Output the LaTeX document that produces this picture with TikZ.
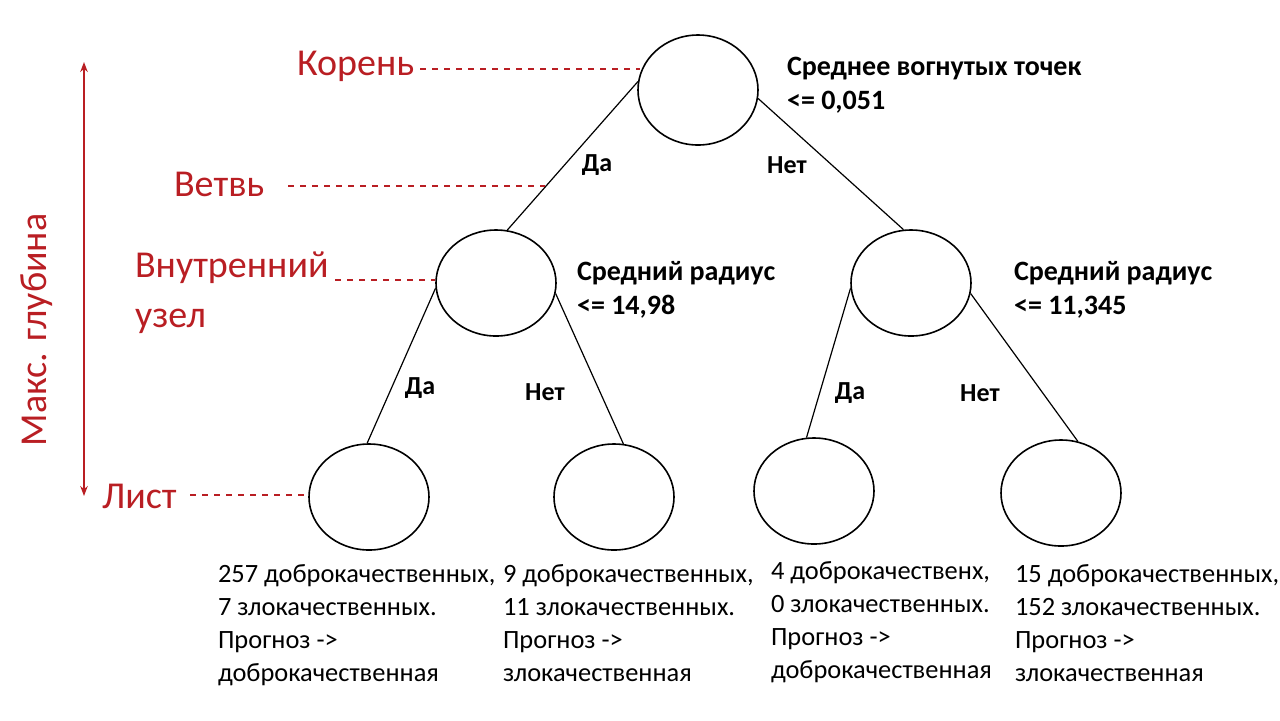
\documentclass[tikz,border=0pt]{standalone}
\usepackage{fontspec}
\setmainfont{Carlito}
\usetikzlibrary{arrows.meta,shapes.geometric}
\definecolor{myred}{RGB}{185,30,35}
\begin{document}
\begin{tikzpicture}[x=0.5pt,y=-0.5pt,
  nd/.style={draw,ellipse,line width=0.8pt,minimum width=60pt,minimum height=53pt,inner sep=0pt},
  edge/.style={line width=0.6pt},
  rl/.style={text=myred,font=\fontsize{19}{21}\selectfont,anchor=west,align=left},
  rd/.style={draw=myred,dashed,line width=0.6pt},
  yn/.style={font=\bfseries\fontsize{13}{15}\selectfont},
  cond/.style={font=\bfseries\fontsize{14}{17}\selectfont,anchor=north west,align=left},
  leaf/.style={font=\fontsize{13.2}{16.5}\selectfont,anchor=north west,align=left}]
\useasboundingbox (0,0) rectangle (1280,720);
\node[nd,minimum height=55pt] (root) at (698,90) {};
\node[nd] (L) at (496,283) {};
\node[nd] (R) at (911,283) {};
\node[nd] (LL) at (369,497) {};
\node[nd] (LR) at (614,497) {};
\node[nd] (RL) at (814,491) {};
\node[nd] (RR) at (1061,493) {};
\draw[edge] (root.172) -- (L.78);
\draw[edge] (root.352) -- (R.98);
\draw[edge] (L.185) -- (LL.92);
\draw[edge] (L.350) -- (LR.80);
\draw[edge] (R.185) -- (RL.98);
\draw[edge] (R.350) -- (RR.72);
\node[yn] (y1) at (597,165) {Да};
\node[yn] (n1) at (787,165) {Нет};
\node[yn] (y2) at (420,388) {Да};
\node[yn] (n2) at (545,392) {Нет};
\node[yn] (y3) at (850,393) {Да};
\node[yn] (n3) at (980,393) {Нет};
\node[cond] (c1) at (780,50) {Среднее вогнутых точек\\<= 0,051};
\node[cond] (c2) at (570,254) {Средний радиус\\<= 14,98};
\node[cond] (c3) at (1007,254) {Средний радиус\\<= 11,345};
\node[leaf] (t1) at (211,557) {257 доброкачественных,\\7 злокачественных.\\Прогноз ->\\доброкачественная};
\node[leaf] (t2) at (496,557) {9 доброкачественных,\\11 злокачественных.\\Прогноз ->\\злокачественная};
\node[leaf] (t3) at (764,554) {4 доброкачественх,\\0 злокачественных.\\Прогноз ->\\доброкачественная};
\node[leaf] (t4) at (1008,557) {15 доброкачественных,\\152 злокачественных.\\Прогноз ->\\злокачественная};
\node[rl] (kor) at (290,66) {Корень};
\node[rl] (vet) at (167,184) {Ветвь};
\node[rl,font=\fontsize{19}{25}\selectfont] (vnu) at (128,293) {Внутренний\\узел};
\node[rl] (lis) at (95,496) {Лист};
\coordinate (k2) at (640,69);
\coordinate (v2) at (545,186);
\coordinate (u2) at (435,280);
\coordinate (l2) at (308,495);
\draw[rd] (420,69) -- (k2);
\draw[rd] (288,186) -- (v2);
\draw[rd] (335,280) -- (u2);
\draw[rd] (190,495) -- (l2);
\coordinate (a1) at (84,62);
\coordinate (a2) at (84,496);
\draw[myred,line width=0.8pt,{Stealth[length=5pt]}-{Stealth[length=5pt]}] (a1) -- (a2);
\node[text=myred,font=\fontsize{19}{21}\selectfont,rotate=90] (mg) at (37,330) {Макс. глубина};
\end{tikzpicture}
\end{document}
